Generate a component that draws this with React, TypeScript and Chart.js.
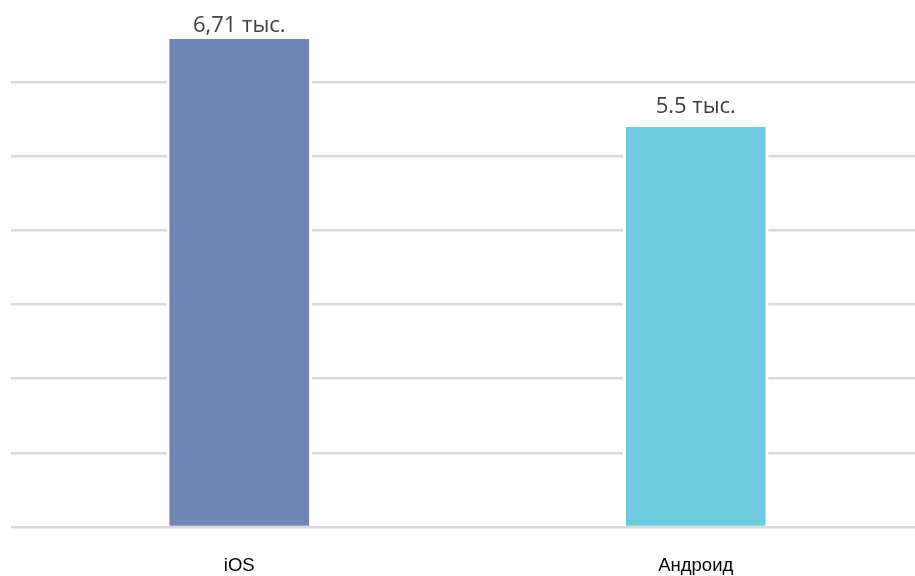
import React, { useEffect, useRef } from "react";
import { Chart, registerables } from "chart.js";

Chart.register(...registerables);

const categories = ["iOS", "Андроид"];
const values = [6710, 5500];
const valueLabels = ["6,71 тыс.", "5.5 тыс."];
const barColors = ["#6F86B6", "#6ECBDD"];
const gridValues = [0, 1020, 2040, 3060, 4080, 5100, 6120];
const yMax = 7000;

export default function App() {
  const ref = useRef<HTMLCanvasElement | null>(null);

  useEffect(() => {
    const canvas = ref.current;
    if (!canvas) return;
    const labelPlugin = {
      id: "valueLabels",
      afterDatasetsDraw(chart: any) {
        const ctx = chart.ctx;
        const meta = chart.getDatasetMeta(0);
        ctx.save();
        ctx.font = '22px "Open Sans"';
        ctx.fillStyle = "#404040";
        ctx.textAlign = "center";
        ctx.textBaseline = "alphabetic";
        meta.data.forEach((bar: any, i: number) => {
          const y = Math.max(bar.y - 14, 32);
          ctx.fillText(valueLabels[i], bar.x, y);
        });
        ctx.restore();
      },
    };
    const chart = new Chart(canvas, {
      type: "bar",
      data: {
        labels: categories,
        datasets: [
          {
            data: values,
            backgroundColor: barColors,
            borderColor: "#ffffff",
            borderWidth: { left: 3, right: 3, top: 0, bottom: 0 },
            borderSkipped: false,
            barThickness: 145,
          },
        ],
      },
      options: {
        animation: false,
        responsive: false,
        devicePixelRatio: 1,
        layout: { padding: { left: 11, top: 18, right: 0, bottom: 0 } },
        plugins: {
          legend: { display: false },
          tooltip: { enabled: false },
        },
        scales: {
          x: {
            afterFit(axis: any) {
              axis.height = 49;
            },
            grid: { display: false, drawTicks: false },
            border: { display: false },
            ticks: {
              padding: 28,
              color: "#000000",
              font: { family: '"Liberation Sans", Arial, sans-serif', size: 18.5 },
            },
          },
          y: {
            min: 0,
            max: yMax,
            afterBuildTicks(axis: any) {
              axis.ticks = gridValues.map((v) => ({ value: v }));
            },
            grid: { color: "#D9D9D9", lineWidth: 2.5, drawTicks: false },
            border: { display: false },
            ticks: { display: false },
          },
        },
      },
      plugins: [labelPlugin],
    });
    return () => chart.destroy();
  }, []);

  return (
    <div
      style={{
        position: "fixed",
        left: 0,
        top: 0,
        width: 915,
        height: 576,
        overflow: "hidden",
        background: "#ffffff",
      }}
    >
      <canvas ref={ref} width={924} height={576} style={{ width: 924, height: 576, display: "block" }} />
    </div>
  );
}
